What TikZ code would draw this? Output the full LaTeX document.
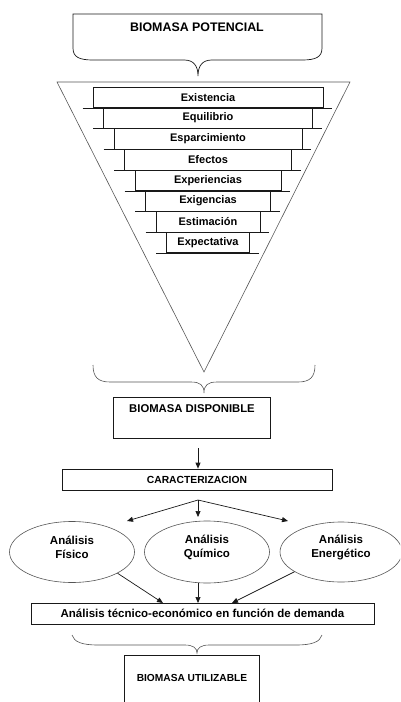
\documentclass[tikz,border=0pt]{standalone}
\usepackage{fontspec}
\setmainfont{Liberation Sans}
\usetikzlibrary{arrows.meta,shapes.geometric,calc}
\definecolor{linea}{RGB}{25,25,25}
\definecolor{trazo}{RGB}{85,85,85}
\tikzset{
  caja/.style={draw=linea, line width=0.7pt, inner sep=0pt},
  barra/.style={draw=linea, line width=0.7pt, minimum height=20.7pt, inner sep=0pt,
                font=\fontsize{11}{13}\selectfont\bfseries},
  elip/.style={ellipse, draw=trazo, line width=0.6pt, inner sep=0pt},
  flecha/.style={-{Triangle[length=6pt,width=5pt]}, linea, line width=0.7pt},
  llave/.style={trazo, line width=0.6pt},
  tri/.style={trazo, line width=0.6pt},
  ttl/.style={font=\fontsize{12.4}{14}\selectfont\bfseries},
  txt/.style={font=\fontsize{11.5}{14}\selectfont\bfseries, align=center},
}

\begin{document}
\begin{tikzpicture}[x=1pt, y=-1pt]
  \useasboundingbox (0,0) rectangle (400,702);
  \clip (0,0) rectangle (400,702);

  % potencial
  \draw[linea, line width=0.7pt] (73,48) -- (73,14) -- (322,14) -- (322,48)
    .. controls (322,57) and (316,60) .. (302,60) -- (212,60)
    .. controls (203,60) and (198,65) .. (198,76)
    .. controls (198,65) and (193,60) .. (184,60) -- (93,60)
    .. controls (79,60) and (73,57) .. (73,48);
  \node[ttl] (pot) at (197,27) {BIOMASA POTENCIAL};

  % embudo
  \draw[tri] (57,82) -- (350,82) -- (204,372) -- cycle;
  \foreach \nom [count=\i from 0, evaluate=\i as \w using 230-21*\i,
                 evaluate=\i as \yy using 97.4+20.7*\i] in
      {Existencia,Equilibrio,Esparcimiento,Efectos,Experiencias,Exigencias,Estimaci\'on,Expectativa}{
    \node[barra, minimum width=\w pt] (b\i) at (208,\yy) {\nom};
    \draw[linea, line width=0.7pt] ([xshift=-10pt]b\i.south west) -- ([xshift=9pt]b\i.south east);
  }

  \draw[llave] (93,365)
    .. controls (93,377) and (98,382) .. (110,382) -- (191,382)
    .. controls (200,382) and (204,385) .. (204,393)
    .. controls (204,385) and (208,382) .. (217,382) -- (298,382)
    .. controls (310,382) and (315,377) .. (315,365);

  % disponible
  \node[caja, minimum width=157pt, minimum height=41pt] (disp) at (191.5,417.5) {};
  \node[font=\fontsize{11.3}{13}\selectfont\bfseries] (dispt) at (192,409) {BIOMASA DISPONIBLE};

  \node[caja, minimum width=270pt, minimum height=21pt,
        font=\fontsize{10.3}{12}\selectfont\bfseries] (carac) at (197,479.5) {CARACTERIZACION};
  \coordinate (d0) at (198,448);
  \draw[flecha] (d0) -- (d0 |- carac.north);

  % analisis
  \node[elip, minimum width=125pt, minimum height=61pt] (fis) at (72,552) {};
  \node[elip, minimum width=125pt, minimum height=62pt] (qui) at (207,552) {};
  \node[elip, minimum width=122pt, minimum height=60pt] (ene) at (341,552) {};
  \node[txt] (fist) at (72,547) {Análisis\\Físico};
  \node[txt] (quit) at (207,547) {Análisis\\Químico};
  \node[txt] (enet) at (341,547) {Análisis\\Energético};

  \coordinate (sal) at (198,500);
  \coordinate (fl) at (127,521);
  \coordinate (fc) at (198,517);
  \coordinate (fr) at (288,521);
  \draw[flecha] (sal) -- (fl);
  \draw[flecha] (sal) -- (fc);
  \draw[flecha] (sal) -- (fr);

  \node[caja, minimum width=343pt, minimum height=21pt, txt] (tec) at (202.5,613.5)
    {Análisis técnico-económico en función de demanda};
  \coordinate (t1) at (163,603);
  \coordinate (t2) at (198,603);
  \coordinate (t3) at (232,603);
  \draw[flecha] (fis.-25) -- (t1);
  \draw[flecha] (t2 |- qui.south) -- (t2);
  \draw[flecha] (ene.-157) -- (t3);

  \draw[llave] (72,635)
    .. controls (74,642) and (82,645) .. (98,645) -- (185,645)
    .. controls (193,645) and (197,648) .. (197,653)
    .. controls (197,648) and (201,645) .. (209,645) -- (296,645)
    .. controls (312,645) and (320,642) .. (322,635);

  % utilizable
  \node[caja, minimum width=135pt, minimum height=60pt] (util) at (191.5,685) {};
  \node[font=\fontsize{10.2}{12}\selectfont\bfseries] (utilt) at (192,678) {BIOMASA UTILIZABLE};
\end{tikzpicture}
\end{document}
